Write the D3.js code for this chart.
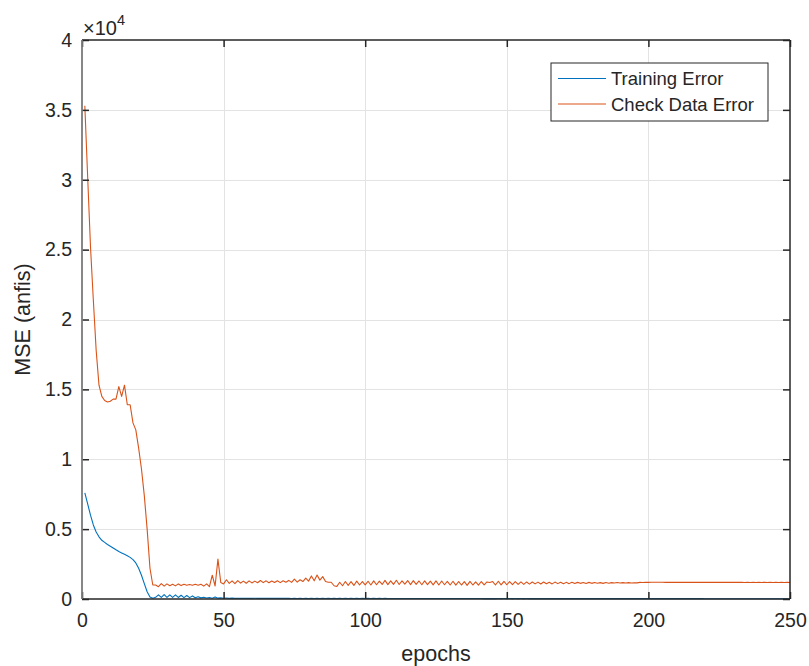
<!DOCTYPE html>
<meta charset="utf-8">
<title>ANFIS training error</title>
<style>
body {
  margin: 0;
  background: #fff;
}
text {
  font-family: "Liberation Sans", Arial, Helvetica, sans-serif;
  fill: #262626;
}
</style>
<body>
<script src="https://d3js.org/d3.v7.min.js"></script>
<script>
// MSE per epoch (epochs 1..250)
var trainErr = [
  7600, 6800, 6000, 5300, 4800, 4450, 4200, 4050, 3900, 3780,
  3650, 3520, 3400, 3300, 3200, 3100, 2980, 2820, 2580, 2200,
  1700, 1100, 520, 150, 50, 120, 300, 110, 320, 120,
  300, 110, 290, 110, 270, 100, 250, 100, 220, 90,
  160, 80, 120, 70, 110, 60, 150, 60, 80, 50,
  62, 48, 60, 47, 58, 46, 57, 45, 56, 45,
  55, 44, 54, 44, 53, 43, 52, 43, 52, 42,
  51, 42, 50, 41, 50, 41, 49, 40, 49, 40,
  48, 40, 48, 39, 47, 39, 47, 38, 46, 38,
  46, 38, 45, 37, 45, 37, 44, 37, 44, 36,
  43, 36, 43, 36, 42, 35, 42, 35, 41, 35,
  41, 34, 40, 34, 40, 34, 39, 33, 39, 33,
  38, 33, 38, 33, 37, 32, 37, 32, 36, 32,
  36, 32, 35, 31, 35, 31, 34, 31, 34, 31,
  33, 30, 33, 30, 33, 30, 32, 30, 32, 30,
  32, 29, 31, 29, 31, 29, 31, 29, 30, 29,
  30, 28, 30, 28, 30, 28, 29, 28, 29, 28,
  29, 28, 29, 27, 28, 27, 28, 27, 28, 27,
  28, 27, 27, 27, 27, 26, 27, 26, 27, 26,
  26, 26, 26, 26, 26, 26, 26, 25, 25, 25,
  25, 25, 25, 25, 25, 25, 25, 24, 24, 24,
  24, 24, 24, 24, 24, 24, 24, 24, 24, 23,
  23, 23, 23, 23, 23, 23, 23, 23, 23, 23,
  23, 23, 22, 22, 22, 22, 22, 22, 22, 22,
  22, 22, 22, 22, 22, 22, 22, 22, 22, 22
];
var checkErr = [
  35300, 30200, 25200, 21400, 17800, 15300, 14500, 14200, 14100, 14150,
  14300, 14300, 15200, 14500, 15300, 13900, 13900, 12600, 12100, 10800,
  9300, 7400, 5000, 2200, 1000, 1000, 880, 1100, 920, 1080,
  950, 1060, 940, 1080, 960, 1050, 980, 1040, 990, 1050,
  980, 1060, 920, 1080, 880, 1700, 930, 2850, 1180, 1080,
  1380, 1120, 1300, 1100, 1320, 1140, 1280, 1130, 1300, 1150,
  1280, 1160, 1320, 1170, 1300, 1160, 1290, 1180, 1310, 1170,
  1300, 1200, 1330, 1190, 1420, 1210, 1380, 1250, 1500, 1280,
  1650, 1300, 1720, 1350, 1600, 1250, 1200, 1200, 950, 900,
  1200, 950, 1250, 980, 1240, 970, 1280, 1000, 1250, 1010,
  1270, 1000, 1300, 1020, 1280, 1040, 1330, 1030, 1300, 1050,
  1340, 1040, 1300, 1060, 1320, 1030, 1310, 1050, 1290, 1020,
  1300, 1030, 1280, 1010, 1300, 1000, 1290, 1020, 1260, 1000,
  1270, 990, 1250, 1000, 1240, 980, 1260, 1000, 1230, 990,
  1250, 1010, 1220, 1180, 1250, 1000, 1270, 1010, 1260, 1020,
  1250, 1030, 1240, 1040, 1230, 1050, 1220, 1060, 1220, 1080,
  1210, 1070, 1220, 1090, 1200, 1080, 1210, 1100, 1200, 1090,
  1190, 1100, 1200, 1110, 1190, 1120, 1180, 1110, 1190, 1120,
  1180, 1130, 1170, 1120, 1180, 1130, 1170, 1140, 1175, 1140,
  1170, 1150, 1170, 1150, 1165, 1155, 1190, 1185, 1195, 1190,
  1200, 1195, 1200, 1195, 1198, 1192, 1196, 1190, 1195, 1190,
  1194, 1190, 1194, 1189, 1193, 1189, 1193, 1188, 1192, 1188,
  1192, 1188, 1191, 1188, 1191, 1187, 1190, 1187, 1190, 1187,
  1190, 1187, 1189, 1186, 1189, 1186, 1189, 1186, 1188, 1186,
  1188, 1186, 1188, 1186, 1188, 1185, 1188, 1185, 1187, 1185
];
var xTicks = [0, 50, 100, 150, 200, 250];
var yTicks = [0, 5000, 10000, 15000, 20000, 25000, 30000, 35000, 40000];
var yTickLabels = ["0", "0.5", "1", "1.5", "2", "2.5", "3", "3.5", "4"];
var seriesNames = ["Training Error", "Check Data Error"];
var seriesColors = ["#0072BD", "#D95319"];

var w = 809,
    h = 666,
    m = {top: 40, right: 19, bottom: 67, left: 82},
    iw = w - m.left - m.right,
    ih = h - m.top - m.bottom;

var svg = d3.select("body").append("svg")
    .attr("width", w)
    .attr("height", h);

var x = d3.scaleLinear().domain([0, 250]).range([0, iw]);
var y = d3.scaleLinear().domain([0, 40000]).range([ih, 0]);

var g = svg.append("g")
    .attr("transform", "translate(" + m.left + "," + m.top + ")");

// grid
g.append("g").selectAll("line")
    .data(xTicks.slice(1, -1))
  .enter().append("line")
    .attr("x1", function(d) { return Math.round(x(d)) + 0.5; })
    .attr("x2", function(d) { return Math.round(x(d)) + 0.5; })
    .attr("y1", 0).attr("y2", ih)
    .attr("stroke", "#e3e3e3");
g.append("g").selectAll("line")
    .data(yTicks.slice(1, -1))
  .enter().append("line")
    .attr("y1", function(d) { return Math.round(y(d)) + 0.5; })
    .attr("y2", function(d) { return Math.round(y(d)) + 0.5; })
    .attr("x1", 0).attr("x2", iw)
    .attr("stroke", "#e3e3e3");

// series
var line = d3.line()
    .x(function(d, i) { return x(i + 1); })
    .y(function(d) { return y(d); });

[trainErr, checkErr].forEach(function(s, i) {
  g.append("path")
      .datum(s)
      .attr("fill", "none")
      .attr("stroke", seriesColors[i])
      .attr("stroke-width", 1.1)
      .attr("stroke-linejoin", "round")
      .attr("d", line);
});

// axes (MATLAB-style box with inward ticks)
function styleAxis(sel) {
  sel.select(".domain").remove();
  sel.selectAll(".tick line").attr("stroke", "#262626").attr("stroke-width", 1.5);
  sel.selectAll(".tick text")
      .style("font-family", '"Liberation Sans", Arial, sans-serif')
      .style("font-size", "19.5px")
      .attr("fill", "#262626");
}

g.append("g")
    .attr("transform", "translate(0," + ih + ")")
    .call(d3.axisBottom(x).tickValues(xTicks).tickSizeInner(-7).tickSizeOuter(0).tickPadding(14))
    .call(styleAxis);
g.append("g")
    .call(d3.axisTop(x).tickValues(xTicks).tickSizeInner(-7).tickSizeOuter(0).tickFormat(""))
    .call(styleAxis);
g.append("g")
    .call(d3.axisLeft(y).tickValues(yTicks).tickSizeInner(-7).tickSizeOuter(0).tickPadding(10)
      .tickFormat(function(d, i) { return yTickLabels[i]; }))
    .call(styleAxis);
g.append("g")
    .attr("transform", "translate(" + iw + ",0)")
    .call(d3.axisRight(y).tickValues(yTicks).tickSizeInner(-7).tickSizeOuter(0).tickFormat(""))
    .call(styleAxis);

// box
g.append("line").attr("x1", 0).attr("x2", iw).attr("y1", 0).attr("y2", 0)
    .attr("stroke", "#262626").attr("stroke-width", 1.5);
g.append("line").attr("x1", 0).attr("x2", iw).attr("y1", ih).attr("y2", ih)
    .attr("stroke", "#262626").attr("stroke-width", 1.5);
g.append("line").attr("x1", iw).attr("x2", iw).attr("y1", 0).attr("y2", ih)
    .attr("stroke", "#262626").attr("stroke-width", 1.5);
g.append("line").attr("x1", 0).attr("x2", 0).attr("y1", 0).attr("y2", ih)
    .attr("stroke", "#7a7a7a").attr("stroke-width", 1.8);

// exponent label
var ex = svg.append("text")
    .attr("x", m.left + 1)
    .attr("y", 35)
    .style("font-size", "20px");
ex.append("tspan").text("\u00d710");
ex.append("tspan").attr("dy", -10).style("font-size", "14.5px").text("4");

// axis labels
svg.append("text")
    .attr("x", m.left + iw / 2)
    .attr("y", 661)
    .attr("text-anchor", "middle")
    .style("font-size", "21.5px")
    .text("epochs");
svg.append("text")
    .attr("transform", "translate(30," + (m.top + ih / 2) + ")rotate(-90)")
    .attr("text-anchor", "middle")
    .style("font-size", "21.5px")
    .text("MSE (anfis)");

// legend
var lg = svg.append("g").attr("transform", "translate(551,63)");
lg.append("rect")
    .attr("width", 217).attr("height", 58)
    .attr("fill", "#fff")
    .attr("stroke", "#262626")
    .attr("stroke-width", 1);
seriesNames.forEach(function(name, i) {
  var yy = 15.5 + i * 25.5;
  lg.append("line")
      .attr("x1", 7).attr("x2", 55)
      .attr("y1", yy).attr("y2", yy)
      .attr("stroke", seriesColors[i])
      .attr("stroke-width", 1.1);
  lg.append("text")
      .attr("x", 60).attr("y", yy + 6.5)
      .style("font-size", "18.5px")
      .text(name);
});
</script>
